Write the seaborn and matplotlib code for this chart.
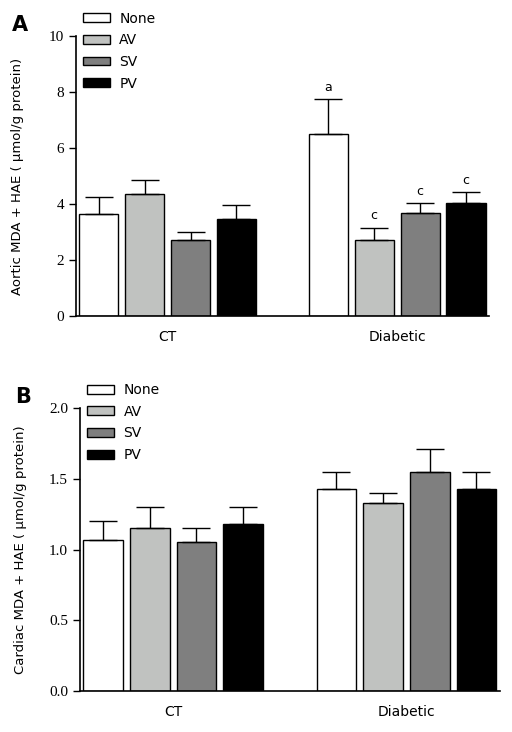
import numpy as np
import pandas as pd
import matplotlib
matplotlib.use("Agg")
import matplotlib.pyplot as plt
import seaborn as sns

sns.set_style("ticks")
plt.rcParams["font.family"] = ["DejaVu Sans"]
plt.rcParams["text.color"] = "black"
plt.rcParams["axes.labelcolor"] = "black"
plt.rcParams["axes.edgecolor"] = "black"
plt.rcParams["xtick.color"] = "black"
plt.rcParams["ytick.color"] = "black"

# data
groups = ["CT", "Diabetic"]
treatments = ["None", "AV", "SV", "PV"]
colors = ["#ffffff", "#c0c2c0", "#7f7f7f", "#000000"]

aortic_ct = [3.65, 4.38, 2.73, 3.48]
aortic_ct_err = [0.60, 0.50, 0.28, 0.50]
aortic_db = [6.50, 2.73, 3.68, 4.05]
aortic_db_err = [1.25, 0.43, 0.36, 0.38]
aortic_marks = ["", "", "", "", "a", "c", "c", "c"]

cardiac_ct = [1.07, 1.15, 1.05, 1.18]
cardiac_ct_err = [0.13, 0.15, 0.10, 0.12]
cardiac_db = [1.43, 1.33, 1.55, 1.43]
cardiac_db_err = [0.12, 0.07, 0.16, 0.12]


def make_df(ct, db, ct_err, db_err):
    rows = []
    for g, vals, errs in [("CT", ct, ct_err), ("Diabetic", db, db_err)]:
        for t, v, e in zip(treatments, vals, errs):
            rows.append({"group": g, "treatment": t, "value": v, "err": e})
    return pd.DataFrame(rows)


df_a = make_df(aortic_ct, aortic_db, aortic_ct_err, aortic_db_err)
df_b = make_df(cardiac_ct, cardiac_db, cardiac_ct_err, cardiac_db_err)

fig = plt.figure(figsize=(5.12, 7.32), dpi=100)
ax_a = fig.add_axes([0.148, 0.568, 0.807, 0.3825])
ax_b = fig.add_axes([0.156, 0.056, 0.820, 0.3866])

tick_font = {"family": "Liberation Serif", "size": 11}


def draw_panel(ax, df, ylim, yticks, ylabel, letter, marks=None):
    sns.barplot(data=df, x="group", y="value", hue="treatment",
                order=groups, hue_order=treatments, palette=colors,
                width=0.8, gap=0.15, edgecolor="black", linewidth=1.0,
                errorbar=None, ax=ax)
    # upper error bars only
    for k, (cont, t) in enumerate(zip(ax.containers, treatments)):
        for j, (bar, g) in enumerate(zip(cont, groups)):
            row = df[(df.group == g) & (df.treatment == t)].iloc[0]
            xc = bar.get_x() + bar.get_width() / 2
            ax.errorbar(xc, row.value, yerr=[[0], [row.err]], fmt="none",
                        ecolor="black", elinewidth=1.0, capsize=10,
                        capthick=1.0, zorder=1)
            if marks is not None:
                m = marks[j * 4 + k]
                if m:
                    ax.annotate(m, (xc, row.value + row.err), xytext=(0, 4),
                                textcoords="offset points", ha="center",
                                va="bottom", fontsize=9)
    ax.set_xlim(-0.4, 1.4)
    ax.set_ylim(*ylim)
    ax.set_yticks(yticks)
    ax.set_yticklabels([f"{v:g}" if letter == "A" else f"{v:.1f}" for v in yticks],
                       fontdict=tick_font)
    ax.set_xlabel("")
    ax.set_ylabel(ylabel, fontsize=9.5)
    ax.yaxis.set_label_coords(-0.125, 0.5)
    ax.tick_params(axis="x", length=0, labelsize=10, pad=10)
    ax.tick_params(axis="y", length=5, width=1.0, direction="out")
    for s in ["top", "right"]:
        ax.spines[s].set_visible(False)
    for s in ["left", "bottom"]:
        ax.spines[s].set_linewidth(1.2)
    ax.legend(loc="upper left", bbox_to_anchor=(0.018, 1.088), frameon=False,
              fontsize=10, handlelength=1.9, handleheight=0.6,
              labelspacing=0.55, handletextpad=0.7, borderpad=0,
              borderaxespad=0)
    ax.text(-0.155, 1.04, letter, transform=ax.transAxes, fontsize=15,
            fontweight="bold", ha="left", va="center")


draw_panel(ax_a, df_a, (0, 10), [0, 2, 4, 6, 8, 10],
           "Aortic MDA + HAE ( \u03bcmol/g protein)", "A", aortic_marks)
draw_panel(ax_b, df_b, (0, 2.0), [0.0, 0.5, 1.0, 1.5, 2.0],
           "Cardiac MDA + HAE ( \u03bcmol/g protein)", "B")

fig.savefig("out.png", dpi=100)
